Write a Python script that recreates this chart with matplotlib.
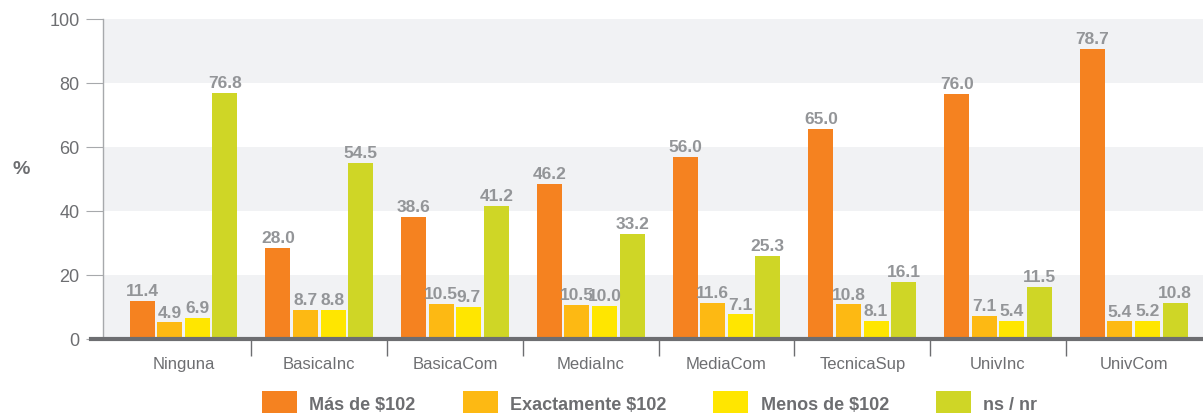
import matplotlib.pyplot as plt
import numpy as np

plt.rcParams['font.family'] = ['Liberation Sans', 'DejaVu Sans']

categories = ['Ninguna', 'BasicaInc', 'BasicaCom', 'MediaInc', 'MediaCom',
              'TecnicaSup', 'UnivInc', 'UnivCom']
series = ['Más de $102', 'Exactamente $102', 'Menos de $102', 'ns / nr']

# bar heights as drawn in the picture
mas_h = [12.0, 28.4, 38.2, 48.5, 57.0, 65.7, 76.7, 90.7]
exacto_h = [5.2, 9.2, 10.9, 10.7, 11.3, 10.8, 7.3, 5.5]
menos_h = [6.6, 9.2, 10.0, 10.4, 7.7, 5.7, 5.7, 5.7]
nsnr_h = [76.9, 55.1, 41.7, 32.9, 26.0, 17.9, 16.3, 11.3]

# value labels printed above the bars
mas_lbl = [11.4, 28.0, 38.6, 46.2, 56.0, 65.0, 76.0, 78.7]
exacto_lbl = [4.9, 8.7, 10.5, 10.5, 11.6, 10.8, 7.1, 5.4]
menos_lbl = [6.9, 8.8, 9.7, 10.0, 7.1, 8.1, 5.4, 5.2]
nsnr_lbl = [76.8, 54.5, 41.2, 33.2, 25.3, 16.1, 11.5, 10.8]

colors = ['#f58220', '#fdb913', '#ffe600', '#cfd626']
gray = '#6d6e71'
lbl_gray = '#939598'

heights = [mas_h, exacto_h, menos_h, nsnr_h]
labels = [mas_lbl, exacto_lbl, menos_lbl, nsnr_lbl]

fig = plt.figure(figsize=(12.03, 4.14), dpi=100)
ax = fig.add_axes([103 / 1203, 1 - 340 / 414, 1 - 103 / 1203, 320 / 414])

x = np.arange(len(categories))
w = 0.184
step = 0.203

for lo in (0, 40, 80):
    ax.axhspan(lo, lo + 20, color='#f1f2f4', zorder=0, lw=0)

handles = []
for k in range(4):
    pos = x + (k - 1.5) * step
    b = ax.bar(pos, heights[k], width=w, color=colors[k], zorder=2, label=series[k])
    handles.append(b)
    for xp, h, v in zip(pos, heights[k], labels[k]):
        ax.annotate(f'{v:.1f}', (xp, h), xytext=(0, 2), textcoords='offset points',
                    ha='center', va='bottom', fontsize=12.5, fontweight='bold',
                    color=lbl_gray, zorder=3)

ax.set_xlim(-0.593, 7.51)
ax.set_ylim(0, 100)

for s in ('top', 'right', 'bottom'):
    ax.spines[s].set_visible(False)
ax.spines['left'].set_color('#a7a9ac')
ax.spines['left'].set_linewidth(1)

ax.axhline(0, xmin=-0.011, xmax=1, color=gray, lw=3, clip_on=False, zorder=4)

ax.set_yticks(range(0, 101, 20))
ax.tick_params(axis='y', length=12, color='#a7a9ac', labelsize=13,
               labelcolor=gray, pad=5)

ax.set_xticks(x)
ax.set_xticklabels(categories)
ax.set_xticks(x[:-1] + 0.5, minor=True)
ax.tick_params(axis='x', which='major', length=0, labelsize=12,
               labelcolor=gray, pad=12)
ax.tick_params(axis='x', which='minor', length=12, color=gray, width=1)

fig.text(0.01, 1 - 170 / 414, '%', fontsize=14, fontweight='bold', color=gray,
         va='center', ha='left')

fig.legend(handles=handles, labels=series, loc='upper center',
           bbox_to_anchor=(0.54, 1 - 383 / 414), ncol=4, frameon=False,
           borderpad=0, handlelength=1.95, handleheight=1.6,
           handletextpad=0.67, columnspacing=2.6,
           prop={'size': 13, 'weight': 'bold'}, labelcolor=gray)

fig.savefig('out.png', dpi=100)
